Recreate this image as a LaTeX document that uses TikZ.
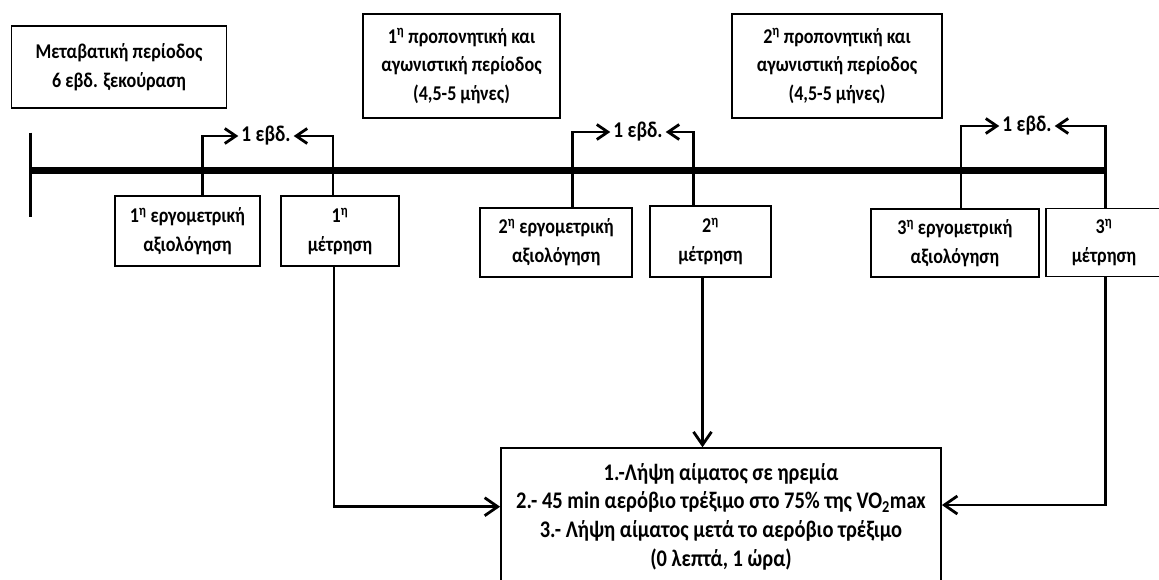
\documentclass[tikz,border=0pt]{standalone}
\usepackage{fontspec}
\setmainfont{Carlito}[FakeStretch=0.86]
\usepackage{tikz}
\usetikzlibrary{arrows.meta}

\tikzset{
  box/.style={draw, line width=1.8pt, align=center, inner sep=2pt,
    font=\fontsize{21}{28.5}\selectfont\bfseries},
  wk/.style={inner xsep=3pt, inner ysep=1pt, font=\fontsize{22.5}{24}\selectfont\bfseries},
  conn/.style={line width=2.8pt},
  tipup/.style={-{Straight Barb[length=11pt,width=15pt]}},
  tipdown/.style={-{Straight Barb[length=13pt,width=18pt]}}
}

\begin{document}
\begin{tikzpicture}[x=1pt,y=-1pt]
\path[use as bounding box, fill=white] (0,0) rectangle (1159,580);

\node[box, minimum width=215pt, minimum height=82pt] (trans) at (119,67) {Μεταβατική περίοδος\\6 εβδ. ξεκούραση};
\node[box, minimum width=197pt, minimum height=104pt] (prep1) at (461.5,66) {1\textsuperscript{η} προπονητική και\\αγωνιστική περίοδος\\(4,5-5 μήνες)};
\node[box, minimum width=210pt, minimum height=104pt] (prep2) at (837,66) {2\textsuperscript{η} προπονητική και\\αγωνιστική περίοδος\\(4,5-5 μήνες)};

\coordinate (tstart) at (30.7,170.7);
\coordinate (tend) at (1105.5,170.7);
\draw[line width=7pt] (tstart) -- (tend);
\draw[conn] ([yshift=38pt]tstart) -- ([yshift=-46pt]tstart);

\node[box, minimum width=145pt, minimum height=70pt] (erg1) at (187.5,231.3) {1\textsuperscript{η} εργομετρική\\αξιολόγηση};
\node[box, minimum width=118pt, minimum height=70pt] (met1) at (340,231.3) {1\textsuperscript{η}\\μέτρηση};
\node[box, minimum width=152pt, minimum height=69pt] (erg2) at (556.2,242.2) {2\textsuperscript{η} εργομετρική\\αξιολόγηση};
\node[box, minimum width=121pt, minimum height=71pt] (met2) at (710.5,241.2) {2\textsuperscript{η}\\μέτρηση};
\node[box, minimum width=168pt, minimum height=68pt] (erg3) at (954.9,243.3) {3\textsuperscript{η} εργομετρική\\αξιολόγηση};
\node[box, minimum width=116pt, minimum height=68pt] (met3) at (1104,242.5) {3\textsuperscript{η}\\μέτρηση};

\node[wk] (wk1) at (266,136) {1 εβδ.};
\node[wk] (wk2) at (638,132) {1 εβδ.};
\node[wk] (wk3) at (1027,126) {1 εβδ.};

\draw[conn,tipup] ([xshift=15pt]erg1.north) |- (wk1.west);
\draw[conn,tipup] ([xshift=-7pt]met1.north) |- (wk1.east);
\draw[conn,tipup] ([xshift=16.5pt]erg2.north) |- (wk2.west);
\draw[conn,tipup] ([xshift=-17pt]met2.north) |- (wk2.east);
\draw[conn,tipup] ([xshift=6pt]erg3.north) |- (wk3.west);
\draw[conn,tipup] ([xshift=1.5pt]met3.north) |- (wk3.east);

\node[box, minimum width=440pt, minimum height=137pt, font=\fontsize{23.8}{28.7}\selectfont\bfseries] (main) at (721,516.7)
  {1.-Λήψη αίματος σε ηρεμία\\2.- 45 min αερόβιο τρέξιμο στο 75\% της VO\textsubscript{2}max\\3.- Λήψη αίματος μετά το αερόβιο τρέξιμο\\(0 λεπτά, 1 ώρα)};

\draw[conn,tipdown] ([xshift=-6pt]met1.south) |- ([yshift=10pt]main.west);
\draw[conn,tipdown] ([xshift=-8pt]met2.south) -- ([xshift=-8pt]met2.south |- main.north);
\draw[conn,tipdown] ([xshift=1.5pt]met3.south) |- ([yshift=11.7pt]main.east);
\end{tikzpicture}
\end{document}
